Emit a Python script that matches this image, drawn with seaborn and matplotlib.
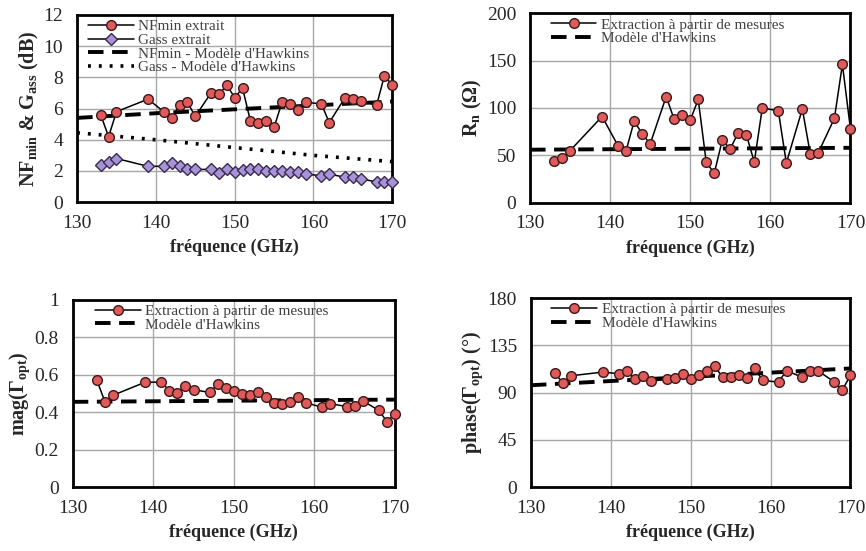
import numpy as np
import pandas as pd
import matplotlib
matplotlib.use("Agg")
import matplotlib.pyplot as plt
import seaborn as sns
from matplotlib.ticker import MultipleLocator

# ---------------- data ----------------
freq = [133, 134, 135, 139, 141, 142, 143, 144, 145, 147, 148, 149, 150, 151, 152,
        153, 154, 155, 156, 157, 158, 159, 161, 162, 164, 165, 166, 168, 169, 170]

nfmin = [5.6, 4.2, 5.8, 6.6, 5.8, 5.4, 6.2, 6.4, 5.5, 7.0, 6.9, 7.5, 6.7, 7.3, 5.2,
         5.1, 5.2, 4.8, 6.4, 6.3, 5.9, 6.4, 6.3, 5.1, 6.7, 6.6, 6.5, 6.2, 8.1, 7.5]
gass = [2.4, 2.6, 2.8, 2.3, 2.3, 2.5, 2.3, 2.1, 2.1, 2.1, 1.9, 2.1, 1.95, 2.05, 2.15,
        2.15, 2.0, 2.0, 2.0, 1.95, 1.95, 1.8, 1.7, 1.8, 1.6, 1.6, 1.5, 1.3, 1.3, 1.3]
rn = [44, 47, 55, 91, 60, 55, 86, 73, 62, 112, 88, 93, 87, 109, 43,
      31, 66, 57, 74, 72, 43, 100, 97, 42, 99, 51, 53, 89, 146, 78]
mag = [0.57, 0.455, 0.49, 0.56, 0.56, 0.515, 0.50, 0.54, 0.52, 0.505, 0.55, 0.53, 0.515, 0.495, 0.49,
       0.505, 0.48, 0.45, 0.445, 0.455, 0.48, 0.45, 0.425, 0.445, 0.43, 0.435, 0.46, 0.41, 0.35, 0.39]
phase = [109, 99, 106, 109.5, 108, 110.5, 102.5, 105.7, 101, 102.5, 103.8, 108, 102.5, 107, 110.5,
         115, 104.8, 104.8, 106.3, 104, 113.3, 101.6, 100, 111, 104.4, 110.5, 110.5, 100, 92.7, 106.3]

model_freq = [130, 140, 150, 160, 170]
nfmin_model = [5.4, 5.7, 5.95, 6.2, 6.45]
gass_model = [4.45, 4.0, 3.5, 3.0, 2.6]
rn_model = [56, 56.5, 57, 57.5, 58]
mag_model = [0.455, 0.458, 0.461, 0.464, 0.467]
phase_model = [97, 101, 105, 109, 113]

# ---------------- style ----------------
sns.set_style("white")
plt.rcParams['font.family'] = ['Liberation Serif', 'DejaVu Serif']
plt.rcParams['mathtext.fontset'] = 'custom'
plt.rcParams['mathtext.rm'] = 'Liberation Serif'
plt.rcParams['mathtext.bf'] = 'Liberation Serif:bold'
plt.rcParams['mathtext.it'] = 'Liberation Serif:italic'

RED = '#e05a5a'
EDGE = '#3a1a1a'
VIOLET = '#a892d8'

fig = plt.figure(figsize=(8.66, 5.51), dpi=100)
positions = [
    [0.089, 0.633, 0.364, 0.340],
    [0.612, 0.632, 0.370, 0.344],
    [0.084, 0.116, 0.372, 0.340],
    [0.613, 0.116, 0.369, 0.343],
]
axes = [fig.add_axes(p) for p in positions]

meas_kw = dict(color='black', lw=1.1, marker='o', markersize=7,
               markerfacecolor=RED, markeredgecolor=EDGE, markeredgewidth=1.0,
               clip_on=False, zorder=5)
dash_kw = dict(color='black', lw=2.8, dashes=(4, 2.2), zorder=4)

df = pd.DataFrame({'f': freq, 'nfmin': nfmin, 'gass': gass, 'rn': rn, 'mag': mag, 'phase': phase})
dm = pd.DataFrame({'f': model_freq, 'nfmin': nfmin_model, 'gass': gass_model,
                   'rn': rn_model, 'mag': mag_model, 'phase': phase_model})


def style_axis(ax, ylim, ymaj, ymin, ylabel):
    ax.set_xlim(130, 170)
    ax.set_ylim(*ylim)
    ax.xaxis.set_major_locator(MultipleLocator(10))
    ax.xaxis.set_minor_locator(MultipleLocator(2))
    ax.yaxis.set_major_locator(MultipleLocator(ymaj))
    ax.yaxis.set_minor_locator(MultipleLocator(ymin))
    ax.grid(True, which='major', color='#a8a8a8', lw=1.0)
    ax.tick_params(which='both', direction='in', color='black', width=1.5,
                   labelsize=14, top=False, right=False)
    ax.tick_params(axis='x', which='major', pad=9)
    ax.tick_params(axis='y', which='major', pad=10)
    ax.tick_params(which='major', length=4)
    ax.tick_params(which='minor', length=4)
    for s in ax.spines.values():
        s.set_color('black')
        s.set_linewidth(2.0)
    ax.set_xlabel('fréquence (GHz)', fontsize=13, fontweight='bold', labelpad=5)
    ax.set_ylabel(ylabel, fontsize=14.5, fontweight='bold', labelpad=2)
    ax.set_axisbelow(True)


# Panel 1: NFmin & Gass
ax = axes[0]
sns.lineplot(data=df, x='f', y='nfmin', ax=ax, label='NFmin extrait', **meas_kw)
sns.lineplot(data=df, x='f', y='gass', ax=ax, label='Gass extrait', color='black', lw=1.1,
             marker='D', markersize=6.5, markerfacecolor=VIOLET,
             markeredgecolor='#3a2a50', markeredgewidth=1.0, clip_on=False, zorder=5)
sns.lineplot(data=dm, x='f', y='nfmin', ax=ax, label="NFmin - Modèle d'Hawkins", **dash_kw)
sns.lineplot(data=dm, x='f', y='gass', ax=ax, label="Gass - Modèle d'Hawkins",
             color='black', lw=2.6, dashes=(0.8, 2.2))
style_axis(ax, (0, 12), 2, 1, r'NF$_{\mathbf{min}}$ & G$_{\mathbf{ass}}$ (dB)')

# Panel 2: Rn
ax = axes[1]
sns.lineplot(data=df, x='f', y='rn', ax=ax, label='Extraction à partir de mesures', **meas_kw)
sns.lineplot(data=dm, x='f', y='rn', ax=ax, label="Modèle d'Hawkins", **dash_kw)
style_axis(ax, (0, 200), 50, 25, r'R$_{\mathbf{n}}$ (Ω)')

# Panel 3: mag
ax = axes[2]
sns.lineplot(data=df, x='f', y='mag', ax=ax, label='Extraction à partir de mesures', **meas_kw)
sns.lineplot(data=dm, x='f', y='mag', ax=ax, label="Modèle d'Hawkins", **dash_kw)
style_axis(ax, (0, 1), 0.2, 0.1, r'mag(Γ$_{\mathbf{opt}}$)')
ax.yaxis.set_major_formatter(matplotlib.ticker.FuncFormatter(lambda v, p: f'{v:g}'))

# Panel 4: phase
ax = axes[3]
sns.lineplot(data=df, x='f', y='phase', ax=ax, label='Extraction à partir de mesures', **meas_kw)
sns.lineplot(data=dm, x='f', y='phase', ax=ax, label="Modèle d'Hawkins", **dash_kw)
style_axis(ax, (0, 180), 45, 22.5, r'phase(Γ$_{\mathbf{opt}}$) (°)')

leg_x = [0.02, 0.05, 0.055, 0.05]
for ax, lx in zip(axes, leg_x):
    leg = ax.legend(loc='upper left', frameon=False, fontsize=11, handlelength=3.0,
                    handletextpad=0.3, labelspacing=0.0, borderaxespad=0.0,
                    borderpad=0.3, bbox_to_anchor=(lx, 1.0))
    for t in leg.get_texts():
        t.set_color('#404040')

fig.savefig('out.png', dpi=100)
